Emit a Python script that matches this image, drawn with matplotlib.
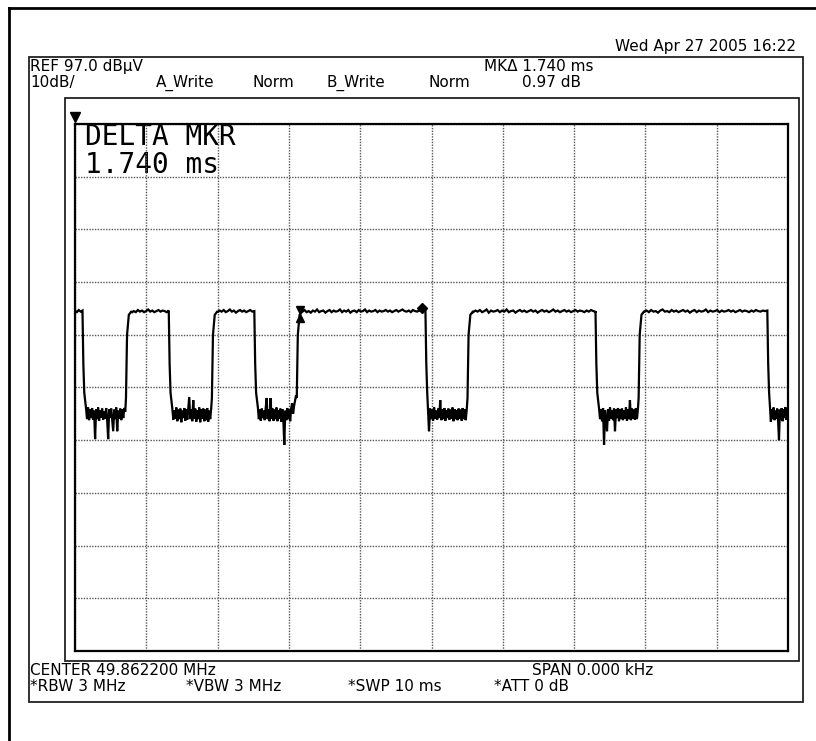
import numpy as np
import matplotlib
matplotlib.use("Agg")
import matplotlib.pyplot as plt
from matplotlib.patches import Rectangle
from matplotlib.lines import Line2D

ref_level_db = 97.0          # REF 97.0 dBuV
db_per_div = 10.0
sweep_ms = 10.0
n_xdiv = 10
n_ydiv = 10

high_level_db = 61.5
t_fall = [0.105, 1.315, 2.515, 4.915, 7.300, 9.710]   # ms, high -> low edges
t_rise = [0.715, 1.920, 3.110, 5.505, 7.905]          # ms, low -> high edges

# edge shapes (offset in ms, level in dB)
fall_dt = [0.0, 0.012, 0.025]
fall_db = [61.5, 51.5, 46.0]
rise_dt = [0.0, 0.015, 0.040, 0.080]
rise_db = [45.0, 57.0, 60.8, 61.5]

# noisy low-level samples, one list per low segment
low_seg1 = [43.0, 41.0, 43.2, 40.8, 42.8, 41.2, 43.1, 40.9, 42.6, 37.2, 42.9, 41.0, 43.2, 40.7,
            42.7, 41.3, 43.0, 40.9, 42.5, 41.1, 43.1, 40.8, 37.2, 42.9, 41.2, 43.0, 40.9, 38.7,
            42.8, 41.0, 43.2, 38.7, 42.6, 41.1, 43.0, 40.8, 42.9, 41.2, 43.1, 42.4]
low_seg2 = [43.0, 40.9, 42.7, 41.1, 43.2, 40.6, 42.8, 41.0, 43.0, 40.4, 42.6, 41.2, 43.1, 40.7,
            42.9, 40.9, 43.0, 45.2, 41.0, 42.8, 40.6, 44.6, 41.1, 43.0, 40.5, 42.7, 41.0, 43.2,
            40.4, 42.9, 41.1, 43.0, 40.6, 42.8, 40.8, 43.1, 40.5, 42.6, 41.0, 43.0]
low_seg3 = [43.2, 41.0, 42.8, 40.7, 43.0, 41.2, 42.6, 40.8, 43.1, 45.0, 41.0, 42.9, 40.6, 45.0,
            41.1, 43.0, 40.7, 42.8, 41.0, 43.2, 40.6, 42.7, 41.1, 43.0, 40.5, 42.9, 41.0, 36.1,
            42.6, 40.8, 43.1, 41.0, 42.8, 40.6, 43.0, 44.0, 42.0, 43.5, 44.5, 45.5]
low_seg4 = [38.7, 43.0, 41.0, 42.8, 40.7, 43.2, 41.1, 42.6, 40.9, 43.0, 41.2, 44.6, 40.8, 42.9,
            41.0, 43.1, 40.7, 42.7, 41.2, 43.0, 40.9, 42.8, 41.1, 43.2, 40.6, 42.9, 41.0, 42.7,
            40.8, 43.0, 41.1, 42.8, 40.7, 43.1, 41.0, 42.9, 40.8, 43.0]
low_seg5 = [43.0, 41.0, 42.8, 40.6, 43.1, 36.1, 42.7, 41.0, 38.7, 42.9, 40.7, 43.2, 41.1, 42.6,
            40.8, 43.0, 38.7, 42.8, 41.2, 43.1, 40.6, 42.9, 41.0, 43.0, 40.8, 42.7, 41.1, 43.2,
            40.7, 42.9, 41.0, 44.6, 40.8, 43.0, 41.1, 42.8, 40.9, 43.1, 41.0, 42.9]
low_seg6 = [40.5, 42.9, 41.0, 43.2, 40.8, 42.6, 41.1, 43.0, 40.7, 37.0, 42.8, 41.0, 43.1, 40.6,
            42.9, 41.2, 43.3, 40.9, 42.7, 43.0]
low_segments = [low_seg1, low_seg2, low_seg3, low_seg4, low_seg5, low_seg6]

# small ripple on the high-level segments
high_seg0 = [61.6, 61.3, 61.7, 61.4, 61.6]
high_seg1 = [61.2, 61.5, 61.3, 61.7, 61.4, 61.6, 61.3, 61.5, 61.8, 61.4, 61.6, 61.3, 61.5, 61.7,
             61.4, 61.6, 61.5, 61.3, 61.6]
high_seg2 = [61.3, 61.6, 61.4, 61.7, 61.3, 61.5, 61.8, 61.4, 61.6, 61.2, 61.5, 61.7, 61.4, 61.6,
             61.3, 61.5, 61.7, 61.4, 61.5]
high_seg3 = [61.4, 61.7, 61.3, 61.5, 61.2, 61.6, 61.4, 61.8, 61.3, 61.5, 61.6, 61.2, 61.5, 61.7,
             61.3, 61.6, 61.4, 61.5, 61.8, 61.3, 61.6, 61.4, 61.7, 61.2, 61.5, 61.6, 61.3, 61.7,
             61.4, 61.5, 61.8, 61.3, 61.6, 61.4, 61.5, 61.7, 61.3, 61.6, 61.4, 61.5, 61.7, 61.4,
             61.6, 61.3, 61.5, 61.7, 61.4, 61.6, 61.8, 61.5, 61.4, 61.6, 61.3, 61.7, 61.5, 61.4,
             61.6, 61.5, 61.7, 61.8]
high_seg4 = [61.3, 61.6, 61.4, 61.7, 61.3, 61.5, 61.8, 61.2, 61.6, 61.4, 61.5, 61.7, 61.3, 61.6,
             61.4, 61.8, 61.3, 61.5, 61.6, 61.2, 61.5, 61.7, 61.4, 61.6, 61.3, 61.5, 61.7, 61.4,
             61.6, 61.2, 61.5, 61.7, 61.4, 61.6, 61.3, 61.5, 61.8, 61.4, 61.6, 61.3, 61.5, 61.7,
             61.4, 61.6, 61.3, 61.5, 61.7, 61.4, 61.6, 61.5, 61.3, 61.6, 61.4, 61.7, 61.5, 61.4]
high_seg5 = [61.4, 61.6, 61.3, 61.7, 61.4, 61.5, 61.2, 61.6, 61.8, 61.4, 61.5, 61.3, 61.7, 61.4,
             61.6, 61.3, 61.5, 61.7, 61.4, 61.6, 61.2, 61.5, 61.7, 61.3, 61.6, 61.4, 61.5, 61.8,
             61.3, 61.6, 61.4, 61.5, 61.7, 61.3, 61.6, 61.4, 61.5, 61.7, 61.4, 61.6, 61.3, 61.5,
             61.7, 61.4, 61.6, 61.5, 61.3, 61.6, 61.4, 61.7, 61.5, 61.4, 61.6, 61.5, 61.6]
high_segments = [high_seg0, high_seg1, high_seg2, high_seg3, high_seg4, high_seg5]

# markers
mk_ref_t = 3.12
mk_delta_ms = 1.740
mk_delta_db = 0.97

# annotation strings
date_text = "Wed Apr 27 2005 16:22"
ref_text = "REF 97.0 dB\u00b5V"
scale_text = "10dB/"
trace_labels = ["A_Write", "Norm", "B_Write", "Norm"]
mk_text = "MK\u0394 1.740 ms"
mk_db_text = "0.97 dB"
delta_lines = ["DELTA MKR", "1.740 ms"]
center_text = "CENTER 49.862200 MHz"
span_text = "SPAN 0.000 kHz"
bottom_labels = ["*RBW 3 MHz", "*VBW 3 MHz", "*SWP 10 ms", "*ATT 0 dB"]

# ---------------- build the trace polyline ----------------
t_pts, y_pts = [], []
hs = high_segments[0]
for i, v in enumerate(hs):
    t_pts.append(0.0 + (t_fall[0] - 0.0) * i / (len(hs) - 1))
    y_pts.append(v)
for k, tf in enumerate(t_fall):
    for dt, v in zip(fall_dt, fall_db):
        t_pts.append(tf + dt)
        y_pts.append(v)
    seg = low_segments[k]
    t0 = tf + 0.05
    t1 = (t_rise[k] - 0.01) if k < len(t_rise) else sweep_ms
    for i, v in enumerate(seg):
        t_pts.append(t0 + (t1 - t0) * i / (len(seg) - 1))
        y_pts.append(v)
    if k < len(t_rise):
        tr = t_rise[k]
        for dt, v in zip(rise_dt, rise_db):
            t_pts.append(tr + dt)
            y_pts.append(v)
        hs = high_segments[k + 1]
        h0 = tr + rise_dt[-1]
        h1 = t_fall[k + 1]
        for i, v in enumerate(hs):
            t_pts.append(h0 + (h1 - h0) * i / (len(hs) - 1))
            y_pts.append(v)

# ---------------- figure ----------------
plt.rcParams['font.family'] = ['DejaVu Sans']
W, H = 816, 741
fig = plt.figure(figsize=(W / 100, H / 100), dpi=100)
fig.patch.set_facecolor('white')


def fx(x):
    return x / W


def fy(y):
    return 1 - y / H


def ydb(ypix):
    # pixel row inside the graticule -> dB value
    return ref_level_db - (ypix - 124) / (527 / n_ydiv) * db_per_div


# outer border (left + top)
fig.add_artist(Line2D([fx(9), fx(9)], [fy(8), fy(741)], color='black', lw=2.0,
                      transform=fig.transFigure))
fig.add_artist(Line2D([fx(9), fx(816)], [fy(8), fy(8)], color='black', lw=2.0,
                      transform=fig.transFigure))
# instrument frame
fig.add_artist(Rectangle((fx(29), fy(702)), fx(803) - fx(29), fy(57) - fy(702),
                         fill=False, ec='#222222', lw=1.3, transform=fig.transFigure))
# inner frame
fig.add_artist(Rectangle((fx(65), fy(661)), fx(799) - fx(65), fy(98) - fy(661),
                         fill=False, ec='#222222', lw=1.3, transform=fig.transFigure))

ax = fig.add_axes([fx(75), fy(651), fx(788) - fx(75), fy(124) - fy(651)])
ax.set_xlim(0, sweep_ms)
ax.set_ylim(ref_level_db - n_ydiv * db_per_div, ref_level_db)
ax.set_xticks(np.linspace(0, sweep_ms, n_xdiv + 1))
ax.set_yticks(np.linspace(ref_level_db - n_ydiv * db_per_div, ref_level_db, n_ydiv + 1))
ax.tick_params(length=0, labelbottom=False, labelleft=False)
ax.grid(True, color='#555555', lw=1.0, linestyle=(0, (1, 1)))
for s in ax.spines.values():
    s.set_linewidth(1.6)
    s.set_color('black')

ax.plot(t_pts, y_pts, color='black', lw=1.6, solid_joinstyle='miter', zorder=3)

# markers
ax.plot([mk_ref_t + 0.04], [high_level_db + 0.3], marker='v', color='black', ms=6, zorder=4)
ax.plot([mk_ref_t + 0.04], [high_level_db - 1.4], marker='^', color='black', ms=6, zorder=4)
ax.plot([mk_ref_t + mk_delta_ms], [high_level_db + 0.5], marker='D', color='black', ms=5, zorder=4)
# reference level marker at top-left
ax.plot([0.0], [ref_level_db + 1.3], marker='v', color='black', ms=7, clip_on=False, zorder=5)

# big delta marker readout
ax.text(0.14, ydb(145), delta_lines[0], family=['DejaVu Sans Mono'], fontsize=20,
        va='baseline', ha='left', color='black', zorder=1)
ax.text(0.14, ydb(173), delta_lines[1], family=['DejaVu Sans Mono'], fontsize=20,
        va='baseline', ha='left', color='black', zorder=1)

fs = 11
fig.text(fx(796), fy(51), date_text, fontsize=fs, ha='right', va='baseline')
fig.text(fx(30), fy(71), ref_text, fontsize=fs, ha='left', va='baseline')
fig.text(fx(30), fy(87), scale_text, fontsize=fs, ha='left', va='baseline')
for xpos, lab in zip([156, 253, 326, 429], trace_labels):
    fig.text(fx(xpos), fy(87), lab, fontsize=fs, ha='left', va='baseline')
fig.text(fx(484), fy(71), mk_text, fontsize=fs, ha='left', va='baseline')
fig.text(fx(522), fy(87), mk_db_text, fontsize=fs, ha='left', va='baseline')

fig.text(fx(30), fy(675), center_text, fontsize=fs, ha='left', va='baseline')
fig.text(fx(532), fy(675), span_text, fontsize=fs, ha='left', va='baseline')
for xpos, lab in zip([30, 186, 348, 494], bottom_labels):
    fig.text(fx(xpos), fy(691), lab, fontsize=fs, ha='left', va='baseline')

fig.savefig('out.png', dpi=100, facecolor='white')
